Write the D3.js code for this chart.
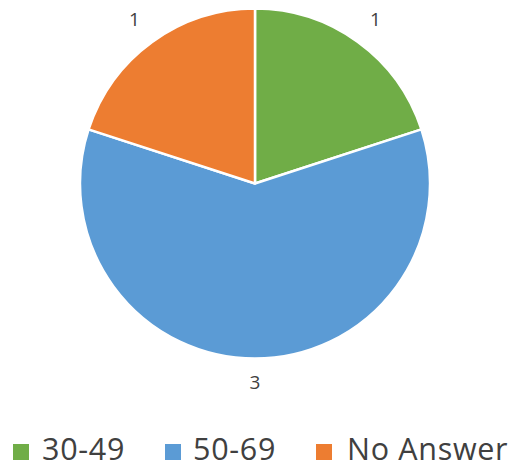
<!DOCTYPE html>
<html><head><meta charset="utf-8">
<script src="https://cdn.jsdelivr.net/npm/d3@7"></script>
<style>body{margin:0;background:#fff}svg{display:block}</style>
</head><body>
<svg id="c" width="515" height="467"></svg>
<script>
const categories = ["30-49", "50-69", "No Answer"];
const values = [1, 3, 1];
const colors = ["#70AD47", "#5B9BD5", "#ED7D31"];

const svg = d3.select("#c");
const cx = 255, cy = 183.5, r = 175, lr = 203;
const pie = d3.pie().sort(null).value(d => d)(values);
const arc = d3.arc().innerRadius(0).outerRadius(r);
const larc = d3.arc().innerRadius(lr).outerRadius(lr);
const g = svg.append("g").attr("transform", `translate(${cx},${cy})`);
g.selectAll("path").data(pie).join("path")
  .attr("d", arc).attr("fill", (d,i) => colors[i])
  .attr("stroke", "#fff").attr("stroke-width", 2.5).attr("stroke-linejoin", "round");
g.selectAll("text").data(pie).join("text")
  .attr("transform", d => { const [x, y] = larc.centroid(d); return `translate(${x * 1.01},${y < 100 ? y : y - 4})`; })
  .attr("text-anchor", "middle").attr("dy", "0.35em")
  .attr("font-family", "Open Sans, sans-serif").attr("font-size", 19)
  .attr("fill", "#404040").text(d => d.data);

const leg = svg.append("g");
const xs = [13, 165, 316];
const tx = [42, 193, 347];
categories.forEach((c, i) => {
  leg.append("rect").attr("x", xs[i]).attr("y", 444).attr("width", 16).attr("height", 16).attr("fill", colors[i]);
  leg.append("text").attr("x", tx[i]).attr("y", 459.5)
    .attr("font-family", "Open Sans, sans-serif").attr("font-size", 30.5)
    .attr("letter-spacing", 0.7)
    .attr("fill", "#404040").text(c);
});
</script>
</body></html>
